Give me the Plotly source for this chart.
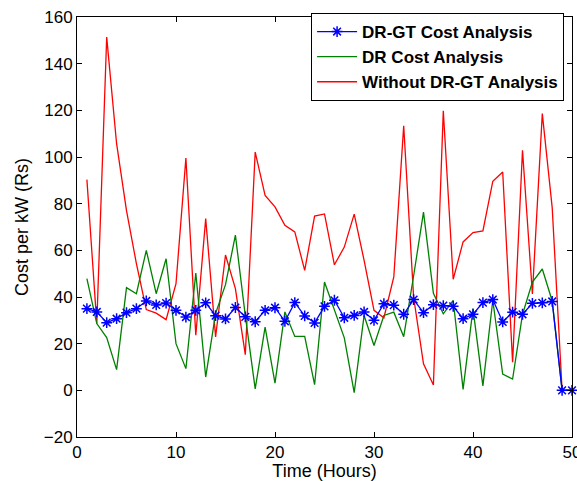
import plotly.graph_objects as go

hours = list(range(1, 51))

dr_gt_cost = [35.0, 33.6, 29.0, 30.7, 33.3, 35.0, 38.3, 36.6, 37.4, 34.3,
              31.4, 34.3, 37.5, 32.0, 30.6, 35.5, 31.5, 29.4, 34.3, 35.4,
              29.6, 37.6, 31.9, 28.9, 36.0, 38.6, 31.1, 32.1, 33.6, 30.0,
              37.1, 36.5, 32.6, 38.9, 33.3, 36.7, 36.3, 36.0, 30.7, 32.6,
              37.6, 38.9, 29.3, 33.5, 32.6, 37.3, 37.5, 38.1, 0.0, 0.0]

dr_cost = [47.9, 28.6, 22.6, 8.9, 44.0, 41.4, 60.0, 41.4, 56.4, 20.0,
           9.3, 50.3, 5.7, 33.0, 45.3, 66.5, 32.0, 0.6, 27.1, 3.1,
           33.6, 23.1, 23.1, 2.4, 46.4, 34.0, 22.5, -1.0, 32.1, 19.2,
           32.1, 33.5, 23.0, 49.0, 76.4, 41.6, 32.8, 38.6, 0.4, 35.0,
           1.9, 38.6, 7.0, 4.8, 32.5, 46.4, 52.0, 38.3, 0.0, 0.0]

without_cost = [90.3, 28.6, 151.4, 105.7, 77.0, 54.3, 34.6, 33.1, 30.3, 45.7,
                99.6, 23.6, 73.6, 22.9, 58.0, 43.6, 15.3, 102.1, 83.5, 78.6,
                70.7, 67.9, 51.4, 74.7, 75.6, 53.8, 61.4, 75.5, 55.7, 34.3,
                31.1, 48.6, 113.4, 40.0, 11.4, 2.3, 119.8, 47.6, 63.6, 67.6,
                68.3, 89.6, 93.6, 12.0, 102.9, 41.3, 118.6, 78.3, 0.0, 0.0]

x_ticks = [0, 10, 20, 30, 40, 50]
y_ticks = [-20, 0, 20, 40, 60, 80, 100, 120, 140, 160]

FONT = "Liberation Sans, Arial, Helvetica, sans-serif"

fig = go.Figure()
fig.add_trace(go.Scatter(
    x=hours, y=without_cost, mode="lines", name="Without DR-GT Analysis",
    line=dict(color="#ff0000", width=1.3), showlegend=False))
fig.add_trace(go.Scatter(
    x=hours, y=dr_cost, mode="lines", name="DR Cost Analysis",
    line=dict(color="#008000", width=1.3), showlegend=False))
fig.add_trace(go.Scatter(
    x=hours, y=dr_gt_cost, mode="lines+markers", name="DR-GT Cost Analysis",
    line=dict(color="#0000ff", width=1.3),
    marker=dict(symbol="asterisk-open", size=9, color="#0000ff",
                line=dict(color="#0000ff", width=1.5)),
    cliponaxis=False))
# legend entries in the reference order
fig.add_trace(go.Scatter(
    x=[None], y=[None], mode="lines", name="DR Cost Analysis",
    line=dict(color="#008000", width=1.3)))
fig.add_trace(go.Scatter(
    x=[None], y=[None], mode="lines", name="Without DR-GT Analysis",
    line=dict(color="#ff0000", width=1.3)))

axis_common = dict(
    showline=True, linecolor="black", linewidth=1, mirror="ticks",
    ticks="inside", ticklen=5, tickcolor="black", showgrid=False,
    zeroline=False, tickfont=dict(size=17, color="black"),
    ticklabeloverflow="allow",
)

fig.update_layout(
    width=577, height=481,
    margin=dict(l=77, r=5, t=17, b=44, autoexpand=False),
    paper_bgcolor="white", plot_bgcolor="white",
    font=dict(family=FONT, color="black"),
    xaxis=dict(range=[0, 50], tickvals=x_ticks,
               title=dict(text="Time (Hours)", font=dict(size=18), standoff=0),
               automargin=False,
               **axis_common),
    yaxis=dict(range=[-20, 160], tickvals=y_ticks,
               title=dict(text="Cost per kW (Rs)", font=dict(size=18), standoff=10),
               automargin=False,
               **axis_common),
    legend=dict(x=0.984, y=0.80, xanchor="right", yanchor="bottom",
                bgcolor="white", bordercolor="black", borderwidth=1,
                font=dict(size=17, color="black", weight="bold", family=FONT),
                tracegroupgap=0, itemwidth=40, traceorder="normal"),
)

fig.write_html(
    "out.html",
    config={"displayModeBar": False},
    post_script="document.body.style.margin='0';document.body.style.overflow='hidden';",
)
